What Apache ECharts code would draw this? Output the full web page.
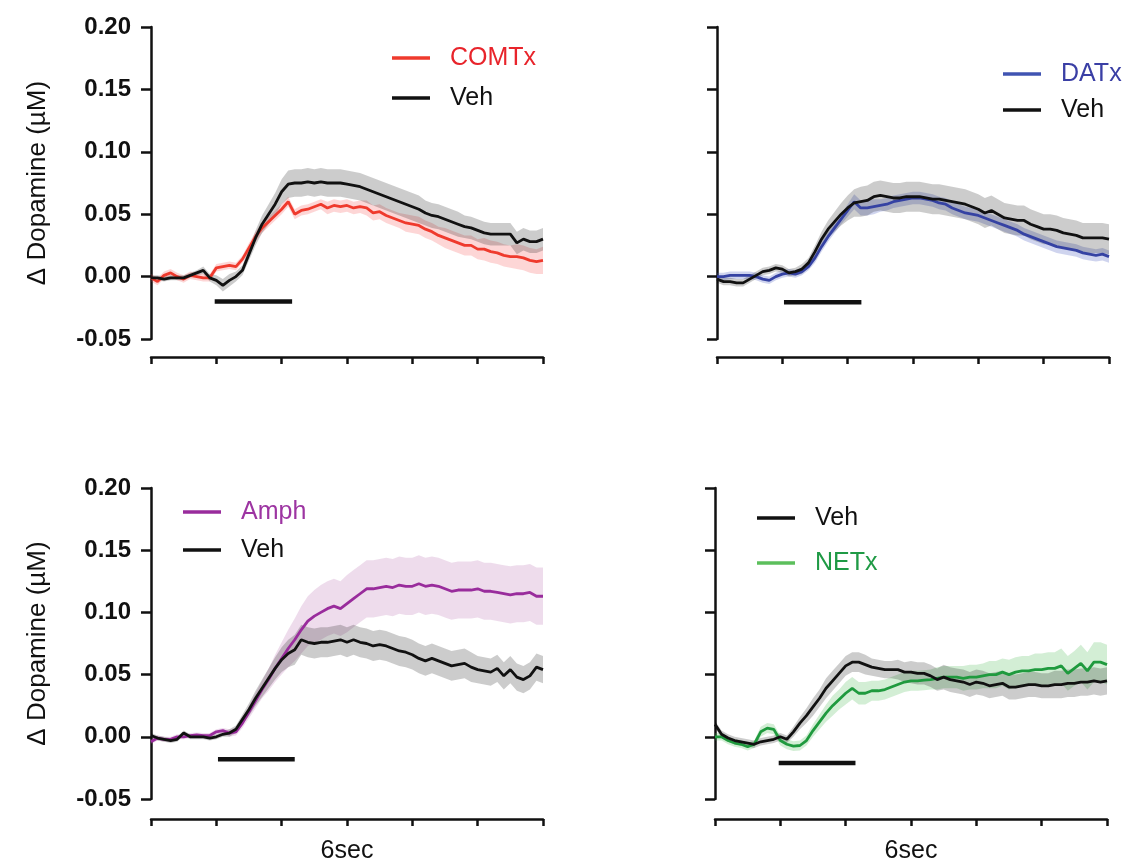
<!DOCTYPE html>
<html><head><meta charset="utf-8">
<script src="https://cdn.jsdelivr.net/npm/echarts@6/dist/echarts.min.js"></script>
<style>html,body{margin:0;padding:0;background:#fff}#c{width:1125px;height:864px}</style>
</head><body><div id="c"></div>
<script>
// time (s) of each sample
const time = [0,0.2,0.4,0.6,0.8,1.0,1.2,1.4,1.6,1.8,2.0,2.2,2.4,2.6,2.8,3.0,3.2,3.4,3.6,3.8,4.0,4.2,4.4,4.6,4.8,5.0,5.2,5.4,5.6,5.8,6.0,6.2,6.4,6.6,6.8,7.0,7.2,7.4,7.6,7.8,8.0,8.2,8.4,8.6,8.8,9.0,9.2,9.4,9.6,9.8,10.0,10.2,10.4,10.6,10.8,11.0,11.2,11.4,11.6,11.8,12.0];

// Panel A: COMTx vs Veh
const comtx = [-0.001,-0.004,0.001,0.003,0.000,-0.002,0.001,0.000,-0.001,-0.001,
  0.007,0.008,0.009,0.008,0.014,0.023,0.032,0.039,0.044,0.049,
  0.054,0.060,0.050,0.053,0.054,0.056,0.058,0.055,0.057,0.056,
  0.057,0.055,0.056,0.055,0.051,0.052,0.049,0.047,0.045,0.043,
  0.042,0.041,0.038,0.036,0.033,0.031,0.029,0.027,0.025,0.025,
  0.022,0.022,0.020,0.019,0.017,0.016,0.016,0.015,0.013,0.012,0.013];
const comtxSem = [0.003,0.003,0.003,0.003,0.003,0.003,0.003,0.003,0.003,0.003,
  0.003,0.003,0.003,0.003,0.003,0.004,0.004,0.004,0.004,0.004,
  0.004,0.004,0.004,0.004,0.004,0.004,0.004,0.005,0.005,0.005,
  0.005,0.005,0.005,0.006,0.006,0.006,0.006,0.006,0.006,0.007,
  0.007,0.007,0.007,0.007,0.007,0.008,0.008,0.008,0.008,0.008,
  0.008,0.009,0.009,0.009,0.009,0.009,0.010,0.010,0.010,0.010,0.011];
const vehA = [-0.001,-0.001,-0.002,-0.001,-0.001,-0.001,0.001,0.003,0.005,-0.001,
  -0.003,-0.007,-0.003,0.000,0.005,0.018,0.031,0.042,0.050,0.058,
  0.068,0.074,0.075,0.075,0.076,0.075,0.076,0.075,0.075,0.075,
  0.074,0.073,0.072,0.070,0.068,0.066,0.064,0.062,0.060,0.058,
  0.056,0.054,0.051,0.049,0.048,0.046,0.044,0.042,0.040,0.039,
  0.037,0.035,0.034,0.034,0.034,0.034,0.027,0.030,0.028,0.028,0.030];
const vehASem = [0.002,0.002,0.002,0.002,0.002,0.002,0.002,0.002,0.003,0.003,
  0.004,0.005,0.005,0.004,0.004,0.005,0.006,0.007,0.008,0.009,
  0.010,0.011,0.011,0.011,0.011,0.011,0.011,0.011,0.011,0.011,
  0.011,0.011,0.011,0.011,0.011,0.011,0.011,0.011,0.011,0.011,
  0.011,0.011,0.010,0.010,0.010,0.010,0.010,0.010,0.009,0.009,
  0.009,0.009,0.009,0.009,0.009,0.009,0.009,0.009,0.009,0.009,0.009];

// Panel B: DATx vs Veh
const datx = [0.000,0.000,0.001,0.001,0.001,0.001,0.000,-0.002,-0.003,0.000,
  0.002,0.003,0.002,0.004,0.008,0.015,0.024,0.032,0.039,0.046,
  0.053,0.060,0.055,0.055,0.056,0.057,0.058,0.060,0.061,0.062,
  0.063,0.063,0.062,0.061,0.059,0.058,0.055,0.053,0.051,0.050,
  0.049,0.047,0.045,0.043,0.041,0.039,0.037,0.034,0.032,0.030,
  0.028,0.026,0.024,0.023,0.022,0.021,0.019,0.018,0.017,0.018,0.016];
const datxSem = [0.003,0.003,0.003,0.003,0.003,0.003,0.003,0.003,0.003,0.003,
  0.003,0.003,0.003,0.003,0.003,0.004,0.004,0.004,0.004,0.004,
  0.005,0.006,0.006,0.006,0.006,0.005,0.005,0.005,0.005,0.005,
  0.005,0.005,0.005,0.005,0.005,0.005,0.005,0.005,0.005,0.005,
  0.005,0.005,0.005,0.005,0.005,0.005,0.005,0.005,0.005,0.005,
  0.005,0.005,0.005,0.005,0.005,0.005,0.005,0.005,0.005,0.005,0.005];
const vehB = [-0.002,-0.004,-0.004,-0.005,-0.005,-0.002,0.001,0.004,0.005,0.007,
  0.006,0.003,0.004,0.006,0.011,0.020,0.030,0.038,0.044,0.050,
  0.055,0.059,0.060,0.061,0.064,0.065,0.064,0.063,0.063,0.064,
  0.064,0.064,0.063,0.062,0.062,0.061,0.060,0.059,0.058,0.056,
  0.054,0.051,0.053,0.050,0.047,0.046,0.045,0.045,0.042,0.040,
  0.038,0.038,0.037,0.035,0.034,0.033,0.031,0.031,0.031,0.031,0.030];
const vehBSem = [0.003,0.003,0.003,0.003,0.003,0.003,0.003,0.003,0.003,0.003,
  0.003,0.003,0.003,0.004,0.004,0.005,0.006,0.007,0.008,0.009,
  0.010,0.011,0.012,0.012,0.012,0.012,0.012,0.012,0.012,0.012,
  0.012,0.012,0.012,0.012,0.012,0.012,0.012,0.012,0.012,0.012,
  0.012,0.012,0.012,0.012,0.012,0.012,0.012,0.012,0.012,0.012,
  0.012,0.012,0.012,0.012,0.012,0.012,0.012,0.012,0.012,0.012,0.012];

// Panel C: Amph vs Veh
const amph = [-0.004,-0.001,-0.002,-0.002,0.000,0.000,0.001,0.0015,0.001,0.001,
  0.004,0.005,0.003,0.004,0.011,0.020,0.029,0.038,0.046,0.055,
  0.063,0.071,0.078,0.086,0.093,0.097,0.100,0.103,0.105,0.103,
  0.107,0.111,0.115,0.119,0.119,0.120,0.121,0.120,0.122,0.121,
  0.121,0.123,0.121,0.122,0.121,0.119,0.117,0.118,0.118,0.118,
  0.119,0.117,0.117,0.116,0.115,0.114,0.115,0.115,0.116,0.113,0.113];
const amphSem = [0.002,0.002,0.002,0.002,0.002,0.002,0.002,0.002,0.002,0.002,
  0.002,0.002,0.003,0.003,0.004,0.005,0.006,0.007,0.009,0.011,
  0.013,0.015,0.017,0.019,0.020,0.021,0.022,0.022,0.022,0.022,
  0.023,0.023,0.023,0.023,0.023,0.023,0.023,0.023,0.023,0.023,
  0.023,0.023,0.023,0.023,0.023,0.023,0.023,0.023,0.023,0.023,
  0.023,0.023,0.023,0.023,0.023,0.023,0.023,0.023,0.023,0.023,0.023];
const vehC = [0.001,-0.001,-0.002,-0.003,-0.002,0.003,0.000,0.000,0.000,-0.001,
  0.000,0.002,0.003,0.006,0.014,0.022,0.031,0.039,0.047,0.055,
  0.062,0.067,0.070,0.078,0.076,0.075,0.076,0.076,0.077,0.078,
  0.076,0.078,0.076,0.075,0.073,0.074,0.073,0.071,0.069,0.068,
  0.066,0.063,0.061,0.063,0.061,0.059,0.057,0.058,0.059,0.056,
  0.054,0.053,0.052,0.055,0.049,0.054,0.048,0.046,0.049,0.056,0.054];
const vehCSem = [0.002,0.002,0.002,0.002,0.002,0.002,0.002,0.002,0.002,0.002,
  0.002,0.002,0.003,0.003,0.004,0.005,0.006,0.007,0.008,0.009,
  0.010,0.011,0.012,0.012,0.012,0.012,0.012,0.012,0.012,0.012,
  0.012,0.012,0.012,0.012,0.012,0.012,0.012,0.012,0.012,0.012,
  0.012,0.012,0.012,0.012,0.012,0.012,0.012,0.012,0.012,0.012,
  0.011,0.011,0.011,0.011,0.011,0.011,0.011,0.011,0.011,0.011,0.011];

// Panel D: Veh vs NETx
const vehD = [0.010,0.002,-0.001,-0.003,-0.004,-0.005,-0.006,-0.004,-0.003,-0.002,
  0.000,-0.002,0.004,0.011,0.017,0.024,0.031,0.039,0.045,0.051,
  0.057,0.060,0.060,0.058,0.056,0.055,0.054,0.054,0.054,0.052,
  0.052,0.051,0.051,0.049,0.046,0.048,0.046,0.045,0.044,0.042,
  0.044,0.043,0.041,0.042,0.043,0.040,0.040,0.041,0.042,0.042,
  0.041,0.041,0.042,0.042,0.043,0.043,0.044,0.044,0.045,0.044,0.045];
const vehDSem = [0.003,0.003,0.003,0.003,0.003,0.003,0.003,0.003,0.003,0.003,
  0.003,0.003,0.004,0.005,0.006,0.007,0.007,0.008,0.008,0.008,
  0.008,0.008,0.008,0.008,0.007,0.007,0.007,0.007,0.008,0.008,
  0.009,0.009,0.009,0.009,0.009,0.010,0.010,0.010,0.010,0.010,
  0.010,0.010,0.010,0.010,0.010,0.010,0.010,0.010,0.010,0.010,
  0.010,0.010,0.011,0.011,0.011,0.011,0.011,0.011,0.011,0.011,0.011];
const netx = [0.000,0.000,-0.003,-0.005,-0.006,-0.008,-0.006,0.004,0.007,0.006,
  -0.003,-0.006,-0.0075,-0.007,-0.003,0.005,0.012,0.019,0.025,0.030,
  0.035,0.039,0.035,0.035,0.037,0.037,0.038,0.040,0.042,0.044,
  0.045,0.045,0.0455,0.046,0.047,0.048,0.048,0.048,0.047,0.048,
  0.048,0.049,0.050,0.050,0.052,0.050,0.052,0.053,0.053,0.054,
  0.054,0.055,0.055,0.057,0.051,0.055,0.059,0.053,0.060,0.060,0.058];
const netxSem = [0.003,0.003,0.003,0.003,0.003,0.003,0.003,0.004,0.004,0.004,
  0.004,0.004,0.004,0.004,0.004,0.005,0.006,0.007,0.008,0.008,
  0.009,0.009,0.009,0.009,0.008,0.008,0.008,0.008,0.008,0.008,
  0.008,0.008,0.008,0.008,0.009,0.009,0.009,0.009,0.010,0.010,
  0.010,0.010,0.011,0.011,0.011,0.012,0.012,0.012,0.012,0.013,
  0.013,0.013,0.013,0.014,0.014,0.014,0.015,0.015,0.016,0.016,0.016];

// stimulus bars (start s, end s, level µM) per panel
const stimOn = [1.95, 2.05, 2.05, 1.95];
const stimOff = [4.32, 4.42, 4.4, 4.3];
const stimLevel = [-0.02, -0.0205, -0.018, -0.021];

// axis ticks
const yMin = -0.05, yMax = 0.2, yStep = 0.05;
const xMin = 0, xMax = 12, xStep = 2;
const xLabelAt = 6, xLabelText = '6sec';
const yName = 'Δ Dopamine (µM)';

const FONT = '"Liberation Sans", Arial, Helvetica, sans-serif';
const BLACK = '#111111';
const C = {
  red: '#ef3a2d', redBand: 'rgba(245,70,70,0.22)',
  blue: '#3542a3', blueBand: 'rgba(70,90,190,0.26)',
  purple: '#992c9c', purpleBand: 'rgba(170,80,160,0.2)',
  green: '#1f9a3e', greenBand: 'rgba(70,185,80,0.24)',
  greyBand: 'rgba(0,0,0,0.2)'
};

const grids = [
  {left: 151, top: 27, width: 392, height: 312},
  {left: 717, top: 27, width: 392, height: 312},
  {left: 151, top: 488, width: 392, height: 312},
  {left: 715, top: 488, width: 392, height: 312}
];
const xOffset = [18, 18, 20, 20];

const panels = [
  {traces: [{name: 'COMTx', mean: comtx, sem: comtxSem, color: C.red, band: C.redBand},
            {name: 'Veh', mean: vehA, sem: vehASem, color: BLACK, band: C.greyBand}]},
  {traces: [{name: 'DATx', mean: datx, sem: datxSem, color: C.blue, band: C.blueBand},
            {name: 'Veh', mean: vehB, sem: vehBSem, color: BLACK, band: C.greyBand}]},
  {traces: [{name: 'Amph', mean: amph, sem: amphSem, color: C.purple, band: C.purpleBand},
            {name: 'Veh', mean: vehC, sem: vehCSem, color: BLACK, band: C.greyBand}]},
  {traces: [{name: 'NETx', mean: netx, sem: netxSem, color: C.green, band: C.greenBand},
            {name: 'Veh', mean: vehD, sem: vehDSem, color: BLACK, band: C.greyBand}]}
];

function bandSeries(g, tr, id) {
  return {
    type: 'custom', name: id, xAxisIndex: g, yAxisIndex: g, silent: true, z: 1,
    data: time.map((t, i) => [t, tr.mean[i] - tr.sem[i], tr.mean[i] + tr.sem[i]]),
    encode: {x: 0, y: [1, 2]},
    renderItem: function (params, api) {
      if (params.dataIndex !== 0) return null;
      const up = [], dn = [];
      for (let i = 0; i < time.length; i++) {
        up.push(api.coord([time[i], tr.mean[i] + tr.sem[i]]));
        dn.push(api.coord([time[i], tr.mean[i] - tr.sem[i]]));
      }
      return {type: 'polygon', shape: {points: up.concat(dn.reverse())}, style: {fill: tr.band}};
    }
  };
}

const series = [];
panels.forEach((p, g) => {
  p.traces.forEach((tr, k) => series.push(bandSeries(g, tr, 'band' + g + '_' + k)));
  p.traces.forEach((tr) => {
    series.push({
      type: 'line', name: tr.name, xAxisIndex: g, yAxisIndex: g,
      data: time.map((t, i) => [t, tr.mean[i]]),
      symbol: 'none', lineStyle: {color: tr.color, width: 2.8}, itemStyle: {color: tr.color}, z: 3
    });
  });
  series.push({
    type: 'line', name: 'stim' + g, xAxisIndex: g, yAxisIndex: g,
    data: [[stimOn[g], stimLevel[g]], [stimOff[g], stimLevel[g]]],
    symbol: 'none', silent: true, lineStyle: {color: BLACK, width: 4.5}, z: 3
  });
});

const isLeft = [true, false, true, false];
const isBottom = [false, false, true, true];

const xAxis = grids.map((_, g) => ({
  gridIndex: g, type: 'value', min: xMin, max: xMax, interval: xStep, offset: xOffset[g],
  axisLine: {show: true, onZero: false, lineStyle: {color: BLACK, width: 2.5}},
  axisTick: {show: true, length: 7, lineStyle: {color: BLACK, width: 2.5}},
  axisLabel: {show: isBottom[g], margin: 20, fontSize: 25, color: BLACK, fontFamily: FONT,
    formatter: v => (Math.abs(v - xLabelAt) < 1e-9 ? xLabelText : '')},
  splitLine: {show: false}
}));

const yAxis = grids.map((_, g) => ({
  gridIndex: g, type: 'value', min: yMin, max: yMax, interval: yStep,
  axisLine: {show: true, onZero: false, lineStyle: {color: BLACK, width: 2.5}},
  axisTick: {show: true, length: 10, lineStyle: {color: BLACK, width: 2.5}},
  axisLabel: {show: isLeft[g], margin: 20, fontSize: 24, fontWeight: 'bold', color: BLACK, fontFamily: FONT,
    formatter: v => v.toFixed(2)},
  splitLine: {show: false},
  name: isLeft[g] ? yName : '', nameLocation: 'middle', nameGap: 100,
  nameTextStyle: {fontSize: 26, color: BLACK, fontFamily: FONT}
}));

function legend(left, top, gap, items) {
  return {
    orient: 'vertical', left: left, top: top, itemWidth: 38, itemHeight: 3.5, itemGap: gap,
    selectedMode: false, padding: 0, icon: 'rect',
    textStyle: {fontSize: 25, lineHeight: 26, color: BLACK, fontFamily: FONT, padding: [0, 0, 0, 15]},
    data: items
  };
}

const option = {
  animation: false,
  backgroundColor: '#ffffff',
  grid: grids.map(g => Object.assign({containLabel: false}, g)),
  xAxis: xAxis,
  yAxis: yAxis,
  legend: [
    legend(392, 45, 14, [{name: 'COMTx', textStyle: {color: '#e8242b'}}, {name: 'Veh'}]),
    legend(1003, 61, 10, [{name: 'DATx', textStyle: {color: '#3a3fa5'}, itemStyle: {color: '#4054b2'}}, {name: 'Veh'}]),
    legend(183, 499, 12, [{name: 'Amph', textStyle: {color: '#9d35a2'}}, {name: 'Veh'}]),
    legend(757, 505, 19, [{name: 'Veh'}, {name: 'NETx', textStyle: {color: '#1f9a45'}, itemStyle: {color: '#5cbf5c'}}])
  ],
  series: series
};

const chart = echarts.init(document.getElementById('c'), null, {renderer: 'canvas'});
chart.setOption(option);
</script>
</body></html>
